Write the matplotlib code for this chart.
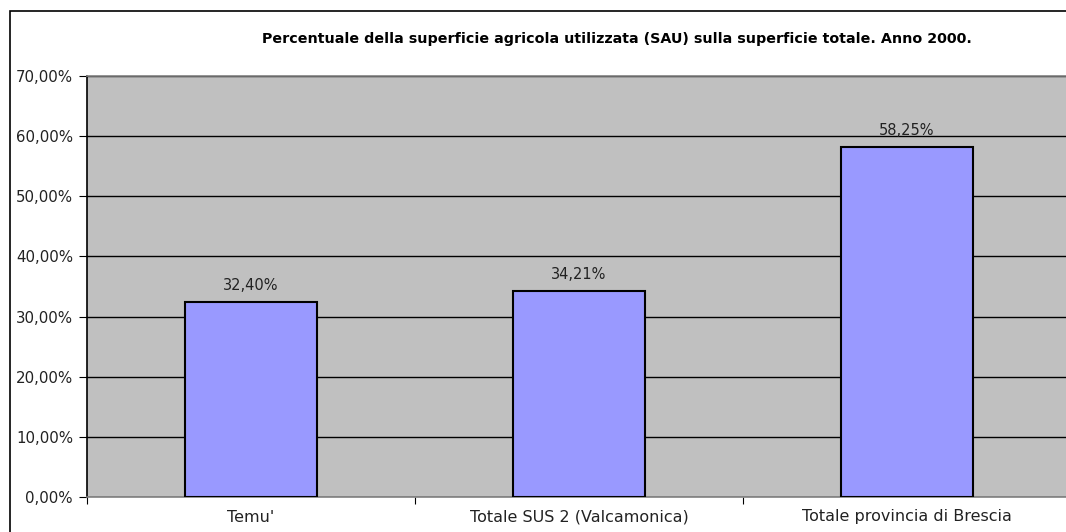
import matplotlib.pyplot as plt
from matplotlib.patches import Rectangle
from matplotlib.ticker import FuncFormatter

plt.rcParams["font.family"] = ["DejaVu Sans"]

# Percentuale SAU su superficie totale, anno 2000
categorie = ["Temu'", "Totale SUS 2 (Valcamonica)", "Totale provincia di Brescia"]
valori = [32.40, 34.21, 58.25]
titolo = "Percentuale della superficie agricola utilizzata (SAU) sulla superficie totale. Anno 2000."

W, H = 1066, 532
fig = plt.figure(figsize=(W / 100, H / 100), dpi=100)

# cornice del grafico (tagliata a destra e in basso)
fig.patches.append(Rectangle((10 / W, -0.05), 1.1, 1 - 11 / H + 0.05,
                             transform=fig.transFigure, fill=False,
                             edgecolor="black", linewidth=1.2))

ax = fig.add_axes([87 / W, 1 - 497 / H, (1071 - 87) / W, (497 - 76) / H])
ax.set_facecolor("#C0C0C0")

x = list(range(len(categorie)))
ax.bar(x, valori, width=0.40, color="#9999FF", edgecolor="black",
       linewidth=1.5, zorder=3)

for xi, v in zip(x, valori):
    ax.text(xi, v + 1.5, f"{v:.2f}%".replace(".", ","), ha="center",
            va="bottom", fontsize=10.5, color="#222222")

ax.set_xlim(-0.5, len(categorie) - 0.5)
ax.set_ylim(0, 70)
ax.set_yticks(range(0, 71, 10))
ax.yaxis.set_major_formatter(FuncFormatter(lambda v, p: f"{v:.2f}%".replace(".", ",")))
ax.yaxis.grid(True, color="black", linewidth=1.0, zorder=1)
ax.set_axisbelow(True)

ax.set_xticks([i + 0.5 for i in range(-1, len(categorie))])
ax.set_xticklabels([])
ax.set_xticks(x, minor=True)
ax.set_xticklabels(categorie, minor=True)
ax.tick_params(axis="x", which="major", direction="out", length=5, color="black")
ax.tick_params(axis="x", which="minor", length=0, pad=9, labelsize=11.5,
               labelcolor="#222222")
ax.tick_params(axis="y", direction="out", length=6, pad=4, labelsize=10.8,
               color="black", labelcolor="#222222")

ax.spines["left"].set_color("black")
ax.spines["bottom"].set_color("#808080")
ax.spines["top"].set_color("#808080")
ax.spines["right"].set_visible(False)
for s in ["left", "bottom", "top"]:
    ax.spines[s].set_linewidth(1.2)

fig.text(617 / W, 1 - 39 / H, titolo, ha="center", va="center",
         fontsize=10.3, fontweight="bold")

fig.savefig("out.png", dpi=100)
